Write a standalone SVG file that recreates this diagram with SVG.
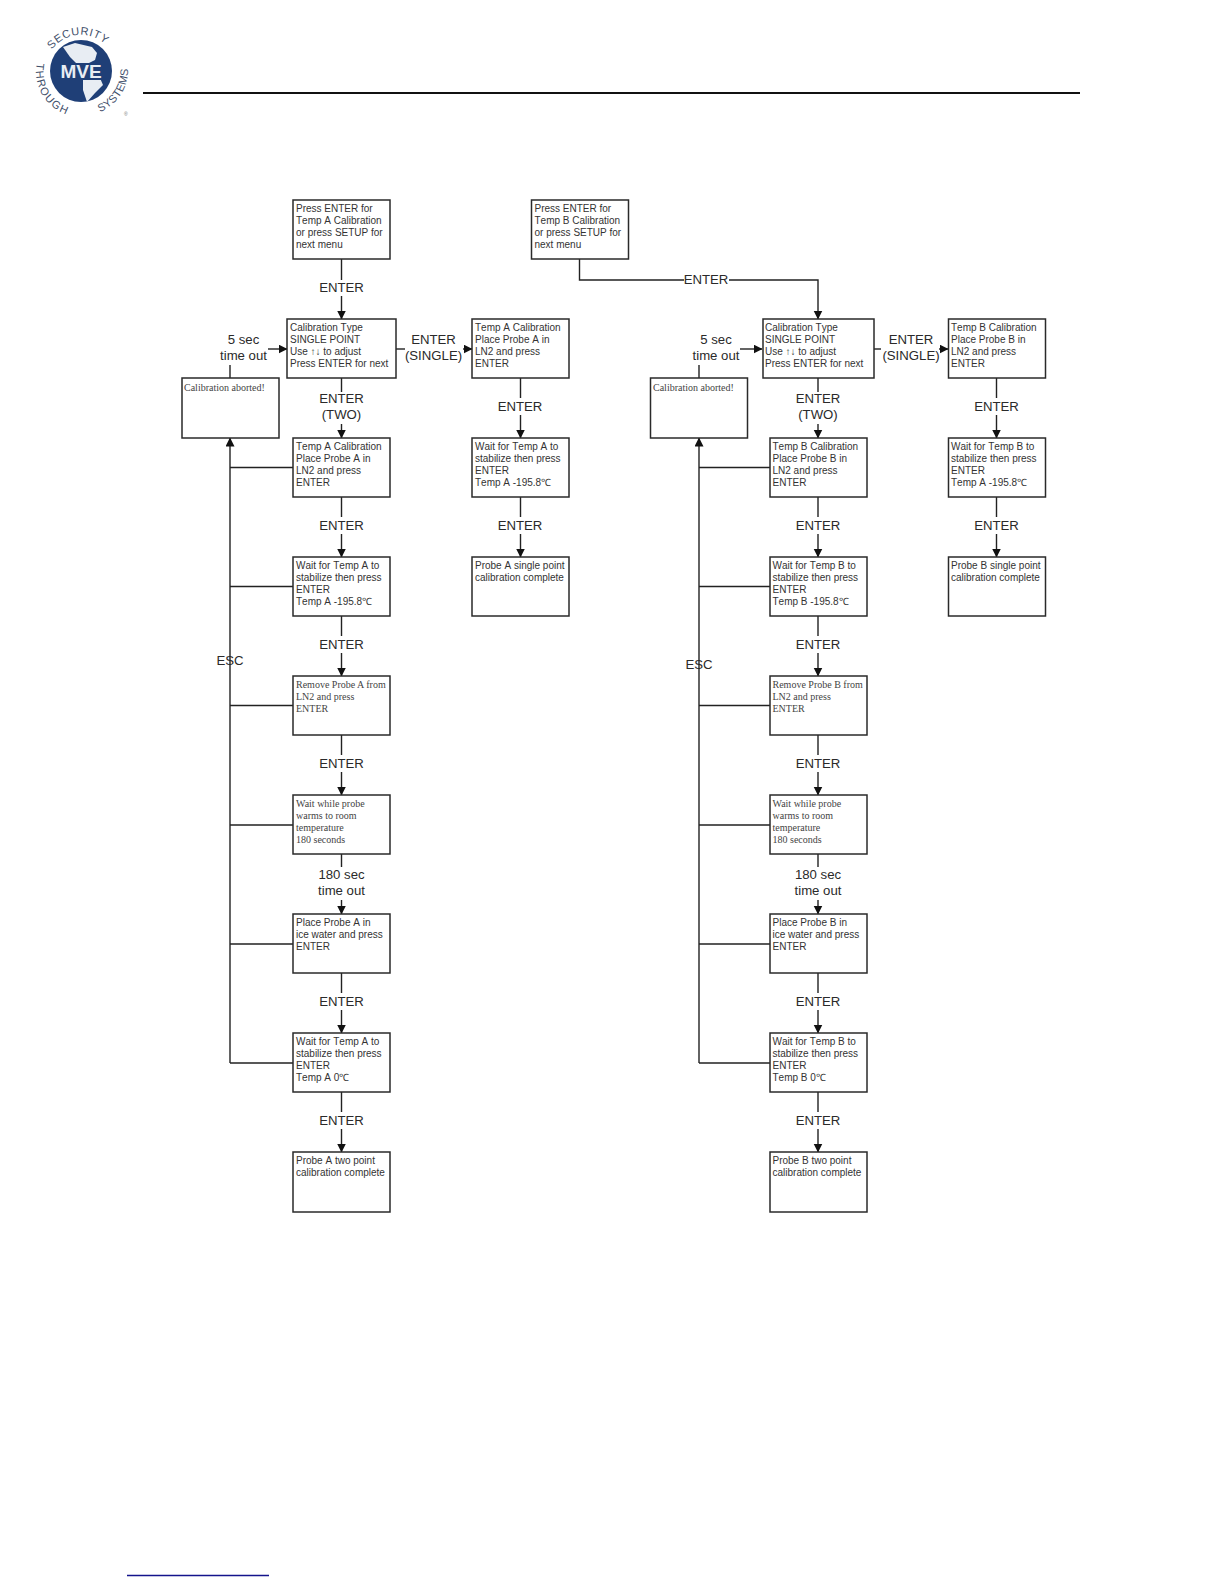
<svg xmlns="http://www.w3.org/2000/svg" width="1224" height="1584" viewBox="0 0 1224 1584">
<style>
.b{fill:#fff;stroke:#2a2a2a;stroke-width:1.5}
.t{font:10px "Liberation Sans",Arial,sans-serif;fill:#333;font-kerning:none}
.s{font:10px "Liberation Serif","Times New Roman",serif;fill:#444}
.l{font:13.2px "Liberation Sans",Arial,sans-serif;fill:#2a2a2a;text-anchor:middle;font-kerning:none}
.c line,.c path{stroke:#222;stroke-width:1.4;fill:none}
.a{marker-end:url(#m)}
.logo{font:11px "Liberation Sans",Arial,sans-serif;fill:#3f4f6a}
</style>
<defs>
<marker id="m" markerWidth="11" markerHeight="11" refX="8.500" refY="4.500" orient="auto" markerUnits="userSpaceOnUse"><path d="M0 0L9 4.500L0 9Z" fill="#111"/></marker>
<path id="arcTop" d="M52 49.500A36 36 0 0 1 110 49.500"/>
<path id="arcLeft" d="M37 63A45 45 0 0 0 72 116"/>
<path id="arcRight" d="M100 112A46 46 0 0 0 127 60"/>
</defs>
<rect width="1224" height="1584" fill="#fff"/>
<g id="logo">
<circle cx="81" cy="71" r="31" fill="#1f3f77"/>
<path d="M63 47L75 43L92 47L97 53L95 60L85 65L78 65L70 57Z" fill="#e8edf3"/>
<path d="M83 78L100 78L103 85L95 93L87 102L83 90Z" fill="#e8edf3"/>
<rect x="57" y="63" width="48" height="17" fill="#1f3f77"/>
<text x="81" y="78" text-anchor="middle" style="font:bold 19px 'Liberation Sans',Arial,sans-serif;fill:#e8edf3">MVE</text>
<text class="logo" letter-spacing="0.6"><textPath href="#arcTop">SECURITY</textPath></text>
<text class="logo" letter-spacing="1.4"><textPath href="#arcLeft">THROUGH</textPath></text>
<text class="logo" letter-spacing="0.3"><textPath href="#arcRight">SYSTEMS</textPath></text>
<text x="124" y="116" style="font:5px 'Liberation Sans',Arial,sans-serif;fill:#777">®</text>
</g>
<g id="rules" class="c">
<line x1="143" y1="93" x2="1080" y2="93" style="stroke:#111;stroke-width:1.8"/>
<line x1="127" y1="1575.500" x2="269" y2="1575.500" style="stroke:#14148c;stroke-width:1.4"/>
</g>
<g id="connectors" class="c">
<line x1="341.500" y1="259" x2="341.500" y2="280"/><line class="a" x1="341.500" y1="296" x2="341.500" y2="319"/>
<line x1="341.500" y1="378" x2="341.500" y2="392"/><line class="a" x1="341.500" y1="424" x2="341.500" y2="438"/>
<line x1="396" y1="349" x2="405" y2="349"/><line class="a" x1="463" y1="349" x2="472" y2="349"/>
<line class="a" x1="268" y1="349" x2="287" y2="349"/><line x1="230" y1="378" x2="230" y2="365"/>
<line class="a" x1="230" y1="1063" x2="230" y2="438"/>
<path d="M230 467.500H293M230 586.500H293M230 705.500H293M230 825H293M230 944H293M230 1063H293"/>
<line x1="341.500" y1="497" x2="341.500" y2="517"/><line class="a" x1="341.500" y1="534" x2="341.500" y2="557"/>
<line x1="341.500" y1="616" x2="341.500" y2="636"/><line class="a" x1="341.500" y1="653" x2="341.500" y2="676"/>
<line x1="341.500" y1="735" x2="341.500" y2="755"/><line class="a" x1="341.500" y1="772" x2="341.500" y2="795"/>
<line x1="341.500" y1="854" x2="341.500" y2="867"/><line class="a" x1="341.500" y1="900" x2="341.500" y2="914"/>
<line x1="341.500" y1="973" x2="341.500" y2="993"/><line class="a" x1="341.500" y1="1010" x2="341.500" y2="1033"/>
<line x1="341.500" y1="1092" x2="341.500" y2="1112"/><line class="a" x1="341.500" y1="1129" x2="341.500" y2="1152"/>
<line x1="520.500" y1="378" x2="520.500" y2="398"/><line class="a" x1="520.500" y1="415" x2="520.500" y2="438"/>
<line x1="520.500" y1="497" x2="520.500" y2="517"/><line class="a" x1="520.500" y1="534" x2="520.500" y2="557"/>
<path d="M579.500 259V280H684"/><path class="a" d="M729 280H818V319"/>
<line x1="818" y1="378" x2="818" y2="392"/><line class="a" x1="818" y1="424" x2="818" y2="438"/>
<line x1="873" y1="349" x2="881" y2="349"/><line class="a" x1="939" y1="349" x2="948" y2="349"/>
<line class="a" x1="740" y1="349" x2="762" y2="349"/><line x1="699" y1="378" x2="699" y2="365"/>
<line class="a" x1="699" y1="1063" x2="699" y2="438"/>
<path d="M699 467.500H770M699 586.500H770M699 705.500H770M699 825H770M699 944H770M699 1063H770"/>
<line x1="818" y1="497" x2="818" y2="517"/><line class="a" x1="818" y1="534" x2="818" y2="557"/>
<line x1="818" y1="616" x2="818" y2="636"/><line class="a" x1="818" y1="653" x2="818" y2="676"/>
<line x1="818" y1="735" x2="818" y2="755"/><line class="a" x1="818" y1="772" x2="818" y2="795"/>
<line x1="818" y1="854" x2="818" y2="867"/><line class="a" x1="818" y1="900" x2="818" y2="914"/>
<line x1="818" y1="973" x2="818" y2="993"/><line class="a" x1="818" y1="1010" x2="818" y2="1033"/>
<line x1="818" y1="1092" x2="818" y2="1112"/><line class="a" x1="818" y1="1129" x2="818" y2="1152"/>
<line x1="996.500" y1="378" x2="996.500" y2="398"/><line class="a" x1="996.500" y1="415" x2="996.500" y2="438"/>
<line x1="996.500" y1="497" x2="996.500" y2="517"/><line class="a" x1="996.500" y1="534" x2="996.500" y2="557"/>
</g>
<g id="labels" transform="translate(0,-1)">
<text class="l" x="341.500" y="292.500">ENTER</text>
<text class="l" x="341.500" y="403.500">ENTER</text><text class="l" x="341.500" y="420">(TWO)</text>
<text class="l" x="433.500" y="345">ENTER</text><text class="l" x="433.500" y="360.500">(SINGLE)</text>
<text class="l" x="243.500" y="345">5 sec</text><text class="l" x="243.500" y="360.500">time out</text>
<text class="l" x="230" y="666">ESC</text>
<text class="l" x="341.500" y="530.500">ENTER</text><text class="l" x="341.500" y="649.500">ENTER</text><text class="l" x="341.500" y="768.500">ENTER</text>
<text class="l" x="341.500" y="880">180 sec</text><text class="l" x="341.500" y="896">time out</text>
<text class="l" x="341.500" y="1006.500">ENTER</text><text class="l" x="341.500" y="1125.500">ENTER</text>
<text class="l" x="520" y="411.500">ENTER</text><text class="l" x="520" y="530.500">ENTER</text>
<text class="l" x="706" y="285">ENTER</text>
<text class="l" x="818" y="403.500">ENTER</text><text class="l" x="818" y="420">(TWO)</text>
<text class="l" x="911" y="345">ENTER</text><text class="l" x="911" y="360.500">(SINGLE)</text>
<text class="l" x="716" y="345">5 sec</text><text class="l" x="716" y="360.500">time out</text>
<text class="l" x="699" y="670">ESC</text>
<text class="l" x="818" y="530.500">ENTER</text><text class="l" x="818" y="649.500">ENTER</text><text class="l" x="818" y="768.500">ENTER</text>
<text class="l" x="818" y="880">180 sec</text><text class="l" x="818" y="896">time out</text>
<text class="l" x="818" y="1006.500">ENTER</text><text class="l" x="818" y="1125.500">ENTER</text>
<text class="l" x="996.500" y="411.500">ENTER</text><text class="l" x="996.500" y="530.500">ENTER</text>
</g>
<g id="a1"><rect class="b" x="293" y="200" width="97" height="59"/><text class="t" x="296" y="212">Press ENTER for</text><text class="t" x="296" y="224">Temp A Calibration</text><text class="t" x="296" y="236">or press SETUP for</text><text class="t" x="296" y="248">next menu</text></g>
<g id="a2"><rect class="b" x="287" y="319" width="109" height="59"/><text class="t" x="290" y="331">Calibration Type</text><text class="t" x="290" y="343">SINGLE POINT</text><text class="t" x="290" y="355">Use ↑↓ to adjust</text><text class="t" x="290" y="367">Press ENTER for next</text></g>
<g id="a3"><rect class="b" x="472" y="319" width="97" height="59"/><text class="t" x="475" y="331">Temp A Calibration</text><text class="t" x="475" y="343">Place Probe A in</text><text class="t" x="475" y="355">LN2 and press</text><text class="t" x="475" y="367">ENTER</text></g>
<g id="a4"><rect class="b" x="182" y="378" width="97" height="60"/><text class="s" x="184" y="391">Calibration aborted!</text></g>
<g id="a5"><rect class="b" x="293" y="438" width="97" height="59"/><text class="t" x="296" y="450">Temp A Calibration</text><text class="t" x="296" y="462">Place Probe A in</text><text class="t" x="296" y="474">LN2 and press</text><text class="t" x="296" y="486">ENTER</text></g>
<g id="a6"><rect class="b" x="472" y="438" width="97" height="59"/><text class="t" x="475" y="450">Wait for Temp A to</text><text class="t" x="475" y="462">stabilize then press</text><text class="t" x="475" y="474">ENTER</text><text class="t" x="475" y="486">Temp A -195.8℃</text></g>
<g id="a7"><rect class="b" x="293" y="557" width="97" height="59"/><text class="t" x="296" y="569">Wait for Temp A to</text><text class="t" x="296" y="581">stabilize then press</text><text class="t" x="296" y="593">ENTER</text><text class="t" x="296" y="605">Temp A -195.8℃</text></g>
<g id="a8"><rect class="b" x="472" y="557" width="97" height="59"/><text class="t" x="475" y="569">Probe A single point</text><text class="t" x="475" y="581">calibration complete</text></g>
<g id="a9"><rect class="b" x="293" y="676" width="97" height="59"/><text class="s" x="296" y="688">Remove Probe A from</text><text class="s" x="296" y="700">LN2 and press</text><text class="s" x="296" y="712">ENTER</text></g>
<g id="a10"><rect class="b" x="293" y="795" width="97" height="59"/><text class="s" x="296" y="807">Wait while probe</text><text class="s" x="296" y="819">warms to room</text><text class="s" x="296" y="831">temperature</text><text class="s" x="296" y="843">180 seconds</text></g>
<g id="a11"><rect class="b" x="293" y="914" width="97" height="59"/><text class="t" x="296" y="926">Place Probe A in</text><text class="t" x="296" y="938">ice water and press</text><text class="t" x="296" y="950">ENTER</text></g>
<g id="a12"><rect class="b" x="293" y="1033" width="97" height="59"/><text class="t" x="296" y="1045">Wait for Temp A to</text><text class="t" x="296" y="1057">stabilize then press</text><text class="t" x="296" y="1069">ENTER</text><text class="t" x="296" y="1081">Temp A 0℃</text></g>
<g id="a13"><rect class="b" x="293" y="1152" width="97" height="60"/><text class="t" x="296" y="1164">Probe A two point</text><text class="t" x="296" y="1176">calibration complete</text></g>
<g id="b1"><rect class="b" x="531.500" y="200" width="97" height="59"/><text class="t" x="534.500" y="212">Press ENTER for</text><text class="t" x="534.500" y="224">Temp B Calibration</text><text class="t" x="534.500" y="236">or press SETUP for</text><text class="t" x="534.500" y="248">next menu</text></g>
<g id="b2"><rect class="b" x="763" y="319" width="111" height="59"/><text class="t" x="765" y="331">Calibration Type</text><text class="t" x="765" y="343">SINGLE POINT</text><text class="t" x="765" y="355">Use ↑↓ to adjust</text><text class="t" x="765" y="367">Press ENTER for next</text></g>
<g id="b3"><rect class="b" x="948.500" y="319" width="97" height="59"/><text class="t" x="951" y="331">Temp B Calibration</text><text class="t" x="951" y="343">Place Probe B in</text><text class="t" x="951" y="355">LN2 and press</text><text class="t" x="951" y="367">ENTER</text></g>
<g id="b4"><rect class="b" x="650.500" y="378" width="97" height="60"/><text class="s" x="653" y="391">Calibration aborted!</text></g>
<g id="b5"><rect class="b" x="770" y="438" width="97" height="59"/><text class="t" x="772.500" y="450">Temp B Calibration</text><text class="t" x="772.500" y="462">Place Probe B in</text><text class="t" x="772.500" y="474">LN2 and press</text><text class="t" x="772.500" y="486">ENTER</text></g>
<g id="b6"><rect class="b" x="948.500" y="438" width="97" height="59"/><text class="t" x="951" y="450">Wait for Temp B to</text><text class="t" x="951" y="462">stabilize then press</text><text class="t" x="951" y="474">ENTER</text><text class="t" x="951" y="486">Temp A -195.8℃</text></g>
<g id="b7"><rect class="b" x="770" y="557" width="97" height="59"/><text class="t" x="772.500" y="569">Wait for Temp B to</text><text class="t" x="772.500" y="581">stabilize then press</text><text class="t" x="772.500" y="593">ENTER</text><text class="t" x="772.500" y="605">Temp B -195.8℃</text></g>
<g id="b8"><rect class="b" x="948.500" y="557" width="97" height="59"/><text class="t" x="951" y="569">Probe B single point</text><text class="t" x="951" y="581">calibration complete</text></g>
<g id="b9"><rect class="b" x="770" y="676" width="97" height="59"/><text class="s" x="772.500" y="688">Remove Probe B from</text><text class="s" x="772.500" y="700">LN2 and press</text><text class="s" x="772.500" y="712">ENTER</text></g>
<g id="b10"><rect class="b" x="770" y="795" width="97" height="59"/><text class="s" x="772.500" y="807">Wait while probe</text><text class="s" x="772.500" y="819">warms to room</text><text class="s" x="772.500" y="831">temperature</text><text class="s" x="772.500" y="843">180 seconds</text></g>
<g id="b11"><rect class="b" x="770" y="914" width="97" height="59"/><text class="t" x="772.500" y="926">Place Probe B in</text><text class="t" x="772.500" y="938">ice water and press</text><text class="t" x="772.500" y="950">ENTER</text></g>
<g id="b12"><rect class="b" x="770" y="1033" width="97" height="59"/><text class="t" x="772.500" y="1045">Wait for Temp B to</text><text class="t" x="772.500" y="1057">stabilize then press</text><text class="t" x="772.500" y="1069">ENTER</text><text class="t" x="772.500" y="1081">Temp B 0℃</text></g>
<g id="b13"><rect class="b" x="770" y="1152" width="97" height="60"/><text class="t" x="772.500" y="1164">Probe B two point</text><text class="t" x="772.500" y="1176">calibration complete</text></g>
</svg>
